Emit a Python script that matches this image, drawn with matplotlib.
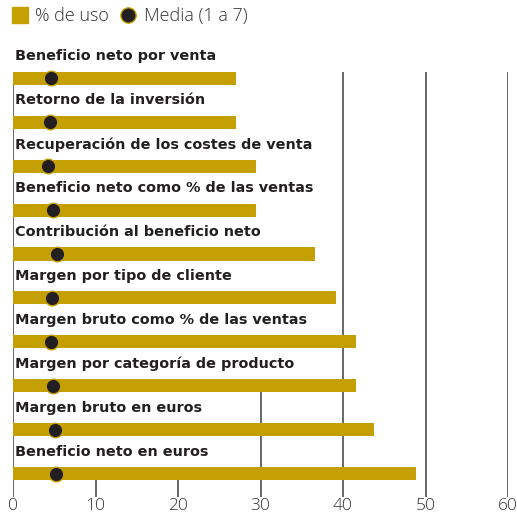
import matplotlib
matplotlib.use("Agg")
import matplotlib.pyplot as plt
from matplotlib.lines import Line2D

# datos
categorias = ["Beneficio neto por venta",
              "Retorno de la inversión",
              "Recuperación de los costes de venta",
              "Beneficio neto como % de las ventas",
              "Contribución al beneficio neto",
              "Margen por tipo de cliente",
              "Margen bruto como % de las ventas",
              "Margen por categoría de producto",
              "Margen bruto en euros",
              "Beneficio neto en euros"]
pct_uso = [27.0, 27.0, 29.5, 29.5, 36.6, 39.2, 41.6, 41.6, 43.8, 48.8]
media = [4.6, 4.5, 4.25, 4.85, 5.3, 4.7, 4.6, 4.9, 5.1, 5.2]
xticks = [0, 10, 20, 30, 40, 50, 60]

gold = "#c4a004"
dark = "#231f20"
grid_c = "#5a5a5a"
plt.rcParams['font.family'] = ['Open Sans', 'DejaVu Sans']

fig = plt.figure(figsize=(5.17, 5.17), dpi=100)
ax = fig.add_axes([13/517, 1 - 497/517, 495/517, 457/517])

n = len(categorias)
filas = list(range(n))
bar_h = 0.30

ax.barh(filas, pct_uso, height=bar_h, color=gold, zorder=2)
ax.scatter(media, filas, s=110, color=dark, edgecolors=gold, linewidths=1.0, zorder=3)

for i, cat in enumerate(categorias):
    ax.text(0.25, i - 0.5, cat, ha='left', va='center', fontsize=10.4,
            fontweight='bold', family=['DejaVu Sans'], color=dark, zorder=4)

ylo = n - 1 + 0.535
# lineas de rejilla (ocultas en parte, como en el original)
inicio = {0: -bar_h/2, 10: n - 1 + bar_h/2, 20: n - 1 + bar_h/2,
          30: 7 + bar_h/2, 40: -bar_h/2, 50: -bar_h/2, 60: -bar_h/2}
for xv in xticks:
    ax.vlines(xv, inicio[xv], ylo, color=grid_c, linewidth=1.3, zorder=1)

ax.set_xlim(0, 60)
ax.set_ylim(ylo, ylo - 457/43.9)
ax.set_yticks([])
ax.set_xticks(xticks)
ax.set_xticklabels([str(v) for v in xticks], fontsize=12.5, fontweight='light', color="#333333")
ax.tick_params(axis='x', length=0, pad=1)
for s in ax.spines.values():
    s.set_visible(False)

handles = [Line2D([], [], marker='s', linestyle='none', markersize=12, color=gold),
           Line2D([], [], marker='o', linestyle='none', markersize=11,
                  markerfacecolor=dark, markeredgecolor=gold, markeredgewidth=1.0)]
fig.legend(handles, ["% de uso", "Media (1 a 7)"], loc='upper left',
           bbox_to_anchor=(-0.012, 1.018), ncol=2, frameon=False,
           prop={'size': 13, 'weight': 'light'},
           labelcolor="#333333",
           handletextpad=0.3, columnspacing=0.5, handlelength=1.1)

fig.savefig("out.png", dpi=100)
